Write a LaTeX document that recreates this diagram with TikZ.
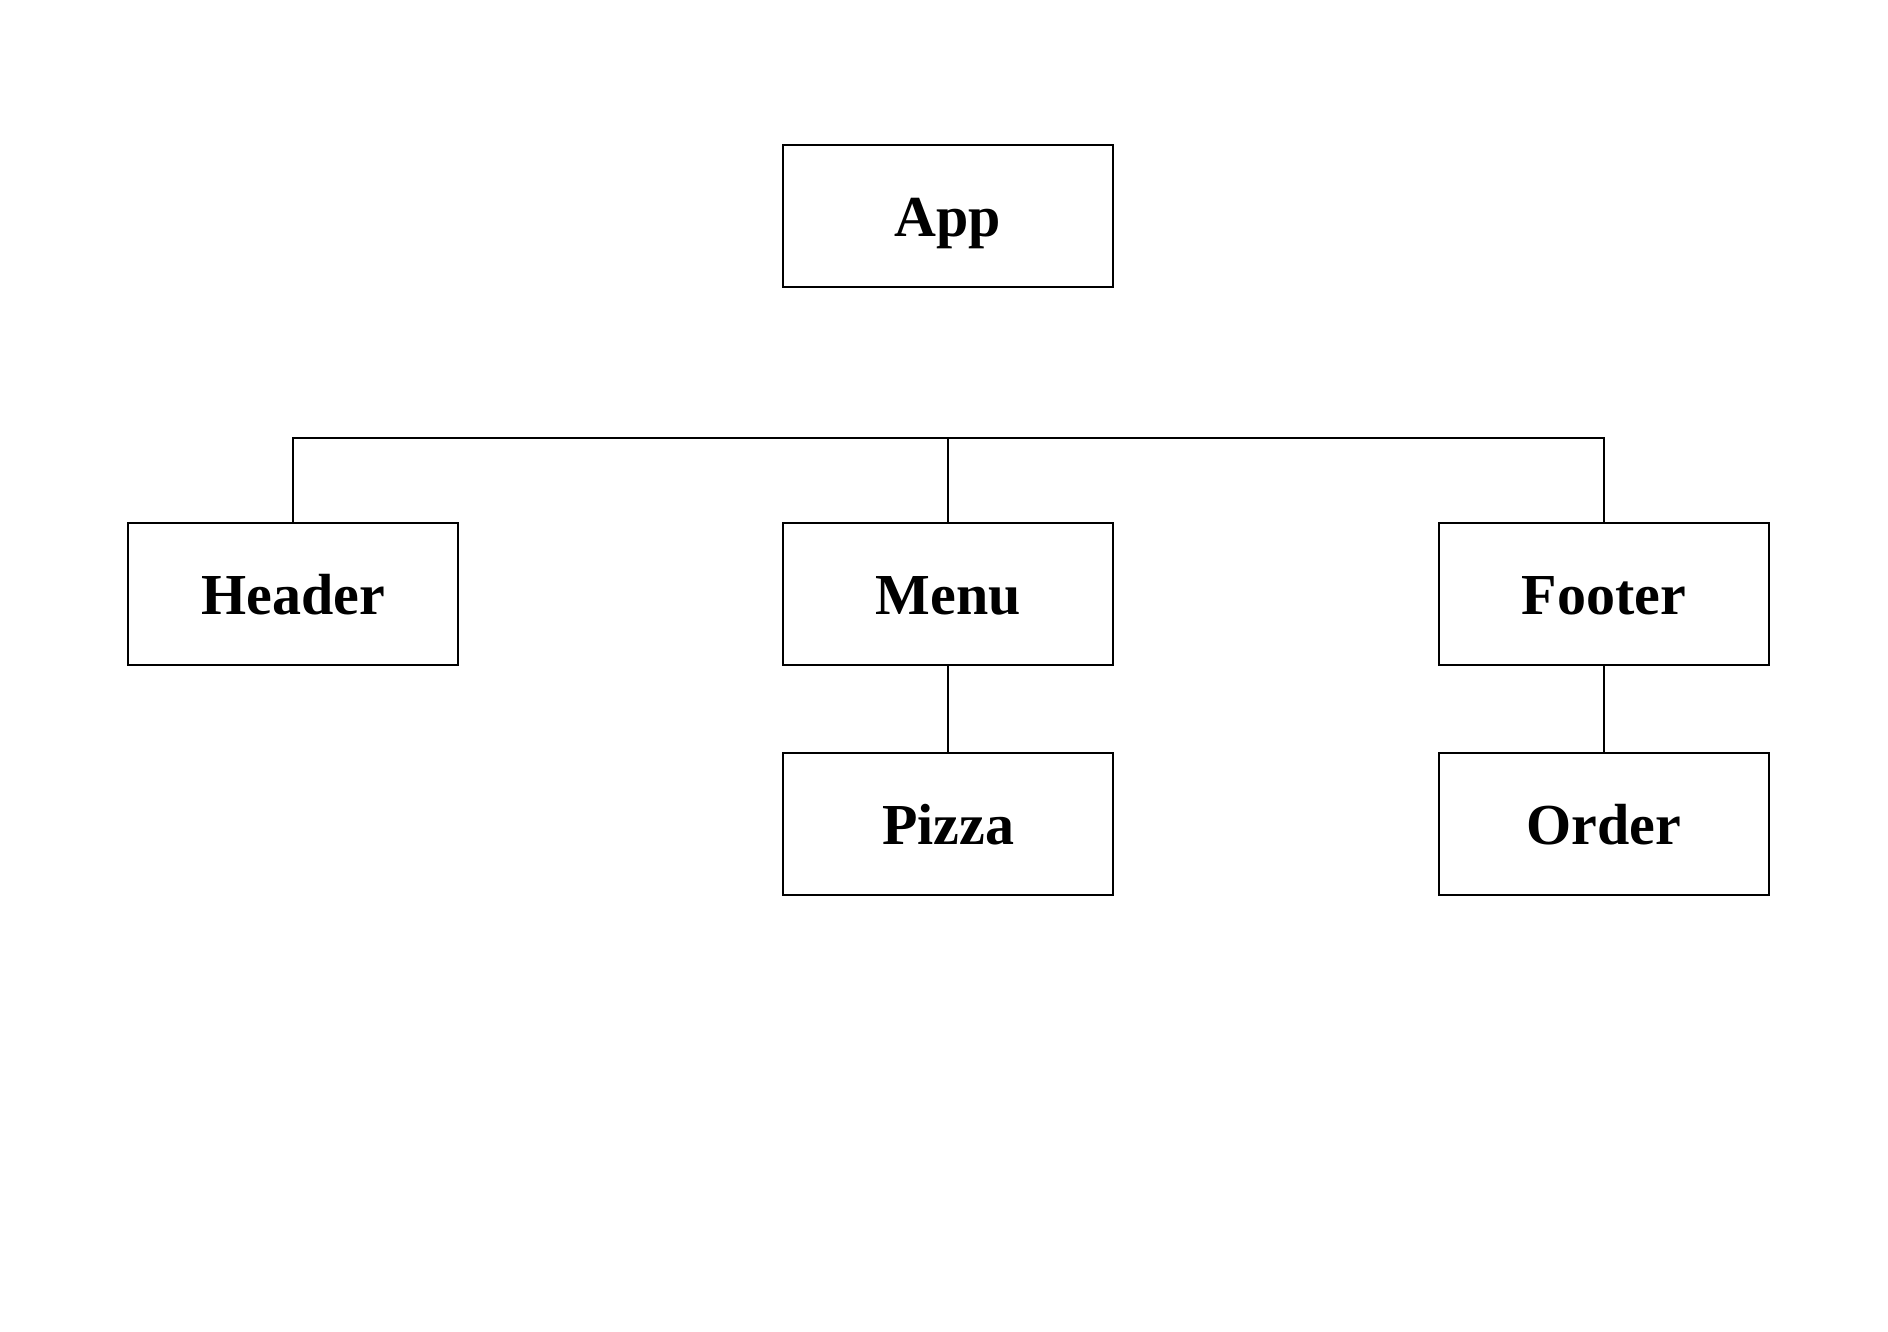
\documentclass[tikz,border=0pt]{standalone}
\usepackage{fontspec}
\setmainfont{Liberation Serif}
\usetikzlibrary{positioning}
\tikzset{
myBox/.style={
	rectangle,draw=black,line width=0.55pt,
	minimum width=3.3cm,minimum height=1.42cm,
	text height=11.8pt,text depth=0pt,
	inner sep=0pt,font=\fontsize{16.5}{18}\selectfont\bfseries
}
, myLink/.style={draw=black,line width=0.55pt}
}

\begin{document}
\begin{tikzpicture}
	\useasboundingbox (0,0) rectangle (18.88,-13.32);
	% nodes
	\node[myBox] (App) at (9.48,-2.16) {App};
	\node[myBox] (Menu) at (9.48,-5.94) {Menu};
	\node[myBox] (Header) [left=3.23cm of Menu] {Header};
	\node[myBox] (Footer) [right=3.24cm of Menu] {Footer};
	\node[myBox] (Pizza) [below=0.86cm of Menu] {Pizza};
	\node[myBox] (Order) [below=0.86cm of Footer] {Order};
	% bus
	\coordinate (Bus) at (9.48,-4.38);

	% links
	\draw [myLink] (Header.north) -- (Header.north |- Bus) -- (Footer.north |- Bus) -- (Footer.north);
	\draw [myLink] (Menu.north) -- (Menu.north |- Bus);
	\draw [myLink] (Menu.south) -- (Pizza.north);
	\draw [myLink] (Footer.south) -- (Order.north);
\end{tikzpicture}
\end{document}
